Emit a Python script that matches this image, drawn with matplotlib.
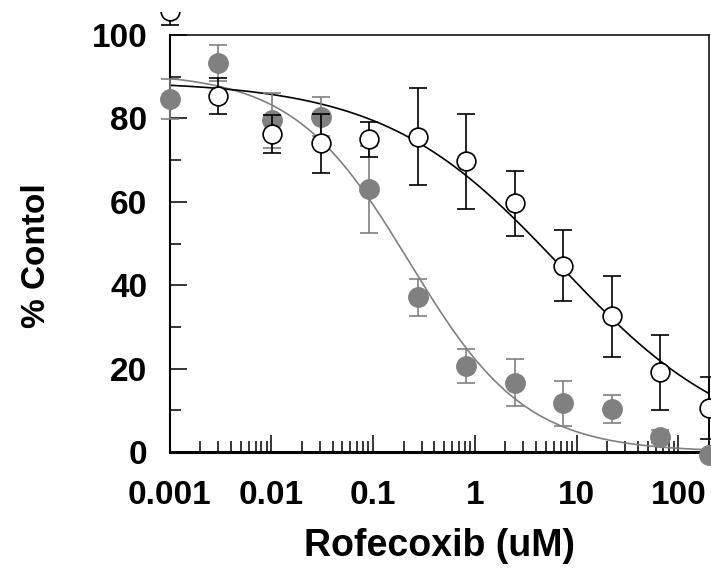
import numpy as np
import matplotlib
matplotlib.use("Agg")
import matplotlib.pyplot as plt
from matplotlib.transforms import Bbox, TransformedBbox
from matplotlib.ticker import FixedLocator, LogLocator, NullFormatter

plt.rcParams['font.family'] = ['Liberation Sans', 'DejaVu Sans']

# Concentrations (uM)
conc = [0.001, 0.003, 0.0102, 0.0305, 0.0914, 0.274, 0.823, 2.47, 7.41, 22.2, 66.7, 200]

# Open circles (black)
open_y = [105.8, 85.4, 76.2, 74.0, 75.0, 75.6, 69.7, 59.7, 44.7, 32.5, 19.1, 10.5]
open_err = [3.5, 4.4, 4.6, 7.0, 4.2, 11.6, 11.4, 7.8, 8.6, 9.6, 9.0, 7.5]

# Filled circles (gray)
fill_y = [84.7, 93.3, 79.5, 80.4, 63.0, 37.1, 20.7, 16.6, 11.7, 10.3, 3.7, -0.7]
fill_err = [4.8, 4.4, 6.5, 4.7, 10.5, 4.5, 4.1, 5.6, 5.4, 3.4, 1.5, 0.5]

# Fitted logistic curves: top, bottom, IC50, Hill slope
open_fit = dict(top=89.0, bottom=0.0, ic50=7.0, hill=0.5)
fill_fit = dict(top=91.0, bottom=0.0, ic50=0.228, hill=0.76)

xticks = [0.001, 0.01, 0.1, 1, 10, 100]
xticklabels = ["0.001", "0.01", "0.1", "1", "10", "100"]
yticks = [0, 20, 40, 60, 80, 100]

GRAY = "#808080"


def logistic(x, p):
    return p["bottom"] + (p["top"] - p["bottom"]) / (1 + (x / p["ic50"]) ** p["hill"])


fig = plt.figure(figsize=(7.11, 5.87), dpi=100)
ax = fig.add_axes([169.5 / 711, 1 - 452 / 587, (709 - 169.5) / 711, (452 - 35) / 587])
ax.set_xscale("log")
ax.set_xlim(0.001, 200)
ax.set_ylim(0, 100)

xs = np.logspace(np.log10(conc[0]), np.log10(conc[-1]), 400)
ax.plot(xs, logistic(xs, fill_fit), color=GRAY, lw=1.2, zorder=2)
ax.plot(xs, logistic(xs, open_fit), color="black", lw=1.2, zorder=3)

clipbox = TransformedBbox(Bbox([[0, 0], [1, (587 - 12) / 587]]), fig.transFigure)

e1 = ax.errorbar(conc, fill_y, yerr=fill_err, fmt="o", color=GRAY, ms=14,
                 mfc=GRAY, mec=GRAY, ecolor=GRAY, elinewidth=1.2, capsize=6.8,
                 capthick=1.2, zorder=4)
e2 = ax.errorbar(conc, open_y, yerr=open_err, fmt="o", color="black", ms=13.5,
                 mfc="white", mec="black", mew=1.2, ecolor="black", elinewidth=1.2,
                 capsize=6.8, capthick=1.2, zorder=5)
for cont in (e1, e2):
    arts = [cont[0]] + list(cont[1]) + list(cont[2])
    for a in arts:
        a.set_clip_on(True)
        a.set_clip_box(clipbox)
        a.set_clip_path(None)

for s in ["top", "right"]:
    ax.spines[s].set_linewidth(1.1)
ax.spines["left"].set_linewidth(1.5)
ax.spines["bottom"].set_linewidth(2.2)

ax.set_xticks(xticks)
ax.set_xticklabels(xticklabels)
ax.xaxis.set_minor_locator(LogLocator(base=10, subs=np.arange(2, 10)))
ax.xaxis.set_minor_formatter(NullFormatter())
ax.set_yticks(yticks)
ax.yaxis.set_minor_locator(FixedLocator([10, 30, 50, 70, 90]))

ax.tick_params(which="both", direction="in", top=False, right=False, width=1.1)
ax.tick_params(which="major", length=12)
ax.tick_params(which="minor", length=8)
ax.tick_params(axis="x", which="major", labelsize=24, pad=20)
ax.tick_params(axis="y", which="major", labelsize=24, pad=16)
for lab in ax.get_xticklabels() + ax.get_yticklabels():
    lab.set_fontweight("bold")

ax.set_xlabel("Rofecoxib (uM)", fontsize=27, fontweight="bold")
ax.set_ylabel("% Contol", fontsize=24, fontweight="bold")
ax.xaxis.set_label_coords(0.5, -0.183)
ax.yaxis.set_label_coords(-0.217, 0.47)

fig.savefig("out.png", dpi=100)
